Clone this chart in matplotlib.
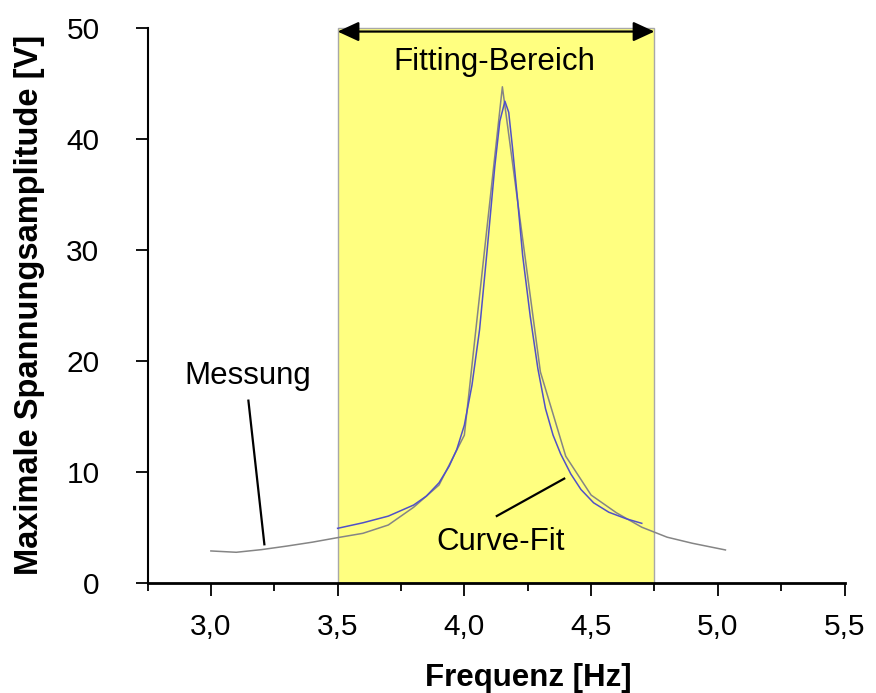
import matplotlib
matplotlib.use("Agg")
import matplotlib.pyplot as plt
from matplotlib.patches import Rectangle

plt.rcParams["font.family"] = ["Liberation Sans", "DejaVu Sans"]

# Measured amplitude (Messung)
mess_freq = [3.00, 3.10, 3.20, 3.30, 3.40, 3.50, 3.60, 3.70, 3.80, 3.90,
             4.00, 4.15, 4.30, 4.40, 4.50, 4.60, 4.70, 4.80, 4.90, 5.03]
mess_amp = [2.86, 2.74, 2.98, 3.30, 3.65, 4.06, 4.45, 5.20, 6.80, 8.80,
            13.30, 44.70, 19.00, 11.40, 7.90, 6.30, 5.00, 4.10, 3.55, 2.95]

# Fitted resonance curve (Curve-Fit)
fit_freq = [3.50, 3.60, 3.70, 3.80, 3.85, 3.90, 3.94, 3.97, 4.00, 4.03,
            4.06, 4.09, 4.12, 4.14, 4.16, 4.175, 4.19, 4.21, 4.23, 4.26,
            4.29, 4.32, 4.35, 4.38, 4.42, 4.46, 4.51, 4.57, 4.64, 4.70]
fit_amp = [4.90, 5.40, 6.00, 7.00, 7.80, 9.00, 10.50, 12.00, 14.20, 17.80,
           22.80, 30.00, 37.50, 41.60, 43.40, 42.40, 39.20, 34.50, 29.50, 24.00,
           19.30, 15.70, 13.30, 11.60, 9.80, 8.40, 7.20, 6.35, 5.75, 5.35]

# Fitting range
fit_range = (3.50, 4.75)

x_major = [3.0, 3.5, 4.0, 4.5, 5.0, 5.5]
x_labels = ["3,0", "3,5", "4,0", "4,5", "5,0", "5,5"]
x_minor = [2.75, 3.25, 3.75, 4.25, 4.75, 5.25]
y_major = [0, 10, 20, 30, 40, 50]

fig = plt.figure(figsize=(8.76, 6.93), dpi=100)
ax = fig.add_axes([0.1684, 0.1592, 0.7957, 0.8004])
ax.set_xlim(2.75, 5.5)
ax.set_ylim(0, 50)

# Highlighted fitting range
ax.add_patch(Rectangle((fit_range[0], 0), fit_range[1] - fit_range[0], 50,
                       facecolor="#FFFF80", edgecolor="#A8A8A8", lw=1.0,
                       zorder=1, clip_on=False))

ax.plot(mess_freq, mess_amp, color="#858585", lw=1.1, zorder=3)
ax.plot(fit_freq, fit_amp, color="#5050C8", lw=1.1, zorder=4)

# Double arrow for the fitting range
ax.annotate("", xy=(fit_range[1], 49.68), xytext=(fit_range[0], 49.68),
            arrowprops=dict(arrowstyle="<|-|>,head_length=0.65,head_width=0.3",
                            mutation_scale=20, color="black", lw=1.6,
                            shrinkA=0, shrinkB=0),
            annotation_clip=False, zorder=6)

ax.text(4.117, 46.23, "Fitting-Bereich", ha="center", va="baseline",
        fontsize=22.5, zorder=6)
ax.text(3.146, 17.89, "Messung", ha="center", va="baseline",
        fontsize=22.5, zorder=6)
ax.text(4.144, 2.95, "Curve-Fit", ha="center", va="baseline",
        fontsize=22.5, zorder=6)

ax.plot([3.148, 3.211], [16.41, 3.46], color="black", lw=1.6, zorder=6)
ax.plot([4.128, 4.394], [6.01, 9.38], color="black", lw=1.6, zorder=6)

# Axes styling
for side in ("top", "right"):
    ax.spines[side].set_visible(False)
ax.spines["bottom"].set_linewidth(2.0)
ax.spines["left"].set_linewidth(1.5)
ax.spines["bottom"].set_zorder(7)
ax.spines["left"].set_zorder(7)

ax.set_xticks(x_major)
ax.set_xticklabels(x_labels)
ax.set_xticks(x_minor, minor=True)
ax.set_yticks(y_major)
ax.set_yticklabels([str(v) for v in y_major])

ax.tick_params(axis="x", which="major", direction="out", length=9.5, width=1.3,
               pad=12, labelsize=21.5)
ax.tick_params(axis="x", which="minor", direction="out", length=5.8, width=1.3)
ax.tick_params(axis="y", which="major", direction="out", length=8.6, width=1.3,
               pad=26, labelsize=21.5)

ax.set_xlabel("Frequenz [Hz]", fontsize=22.5, fontweight="bold")
ax.xaxis.set_label_coords(0.547, -0.186)
ax.xaxis.label.set_va("baseline")
ax.set_ylabel("Maximale Spannungsamplitude [V]", fontsize=23.5, fontweight="bold")
ax.yaxis.set_label_coords(-0.170, 0.5)
ax.yaxis.label.set_va("center")

fig.savefig("out.png", dpi=100)
